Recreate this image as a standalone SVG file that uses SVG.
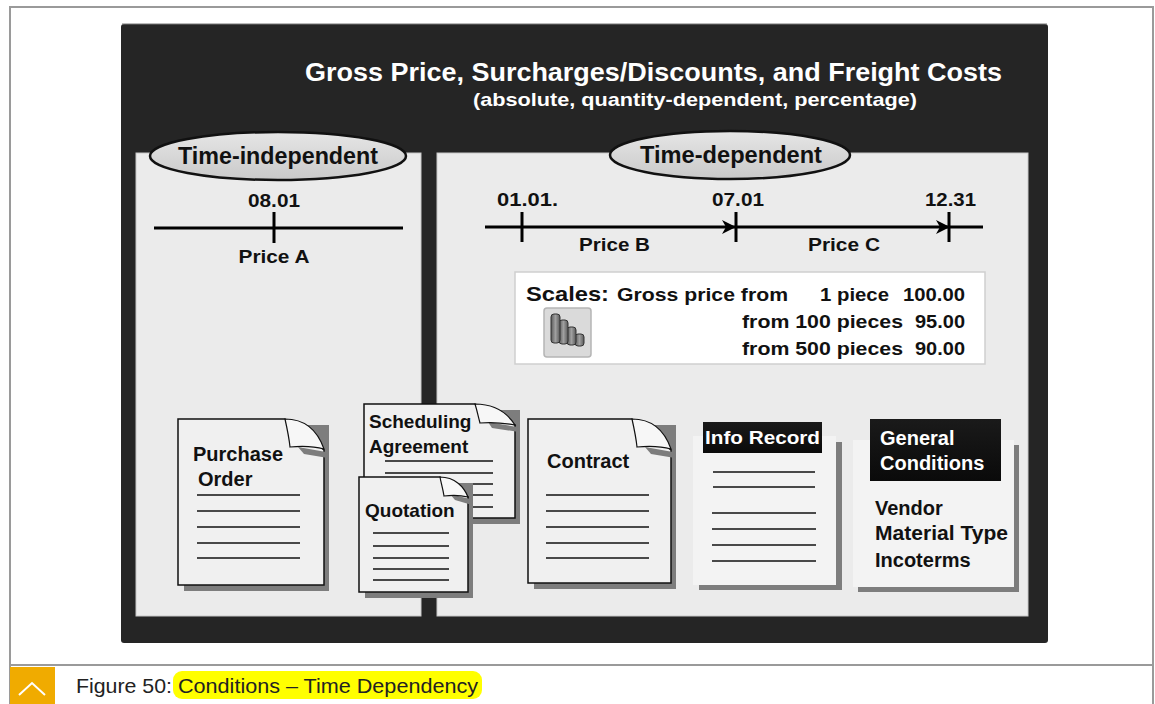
<svg xmlns="http://www.w3.org/2000/svg" width="1155" height="704" viewBox="0 0 1155 704">
  <style>
    .b { font-family: "Liberation Sans", Arial, sans-serif; font-weight: bold; fill: #111; }
    .w { font-family: "Liberation Sans", Arial, sans-serif; font-weight: bold; fill: #fff; }
    .doc { fill: #f0f0f0; stroke: #111; stroke-width: 1.5; }
    .flap { fill: #f7f7f7; stroke: #111; stroke-width: 1.2; }
    .shadow { fill: #7d7d7d; }
    .rule { stroke: #111; stroke-width: 1.5; }
    .axis { stroke: #000; stroke-width: 3; fill: none; }
    .cap { font-family: "Liberation Sans", Arial, sans-serif; font-size: 21px; fill: #222; }
  </style>
  <defs>
    <linearGradient id="ell" x1="0" y1="0" x2="0" y2="1">
      <stop offset="0" stop-color="#e6e6e6"/>
      <stop offset="1" stop-color="#c9c9c9"/>
    </linearGradient>
    <linearGradient id="lbl" x1="0" y1="0" x2="0" y2="1">
      <stop offset="0" stop-color="#1a1a1a"/>
      <stop offset="1" stop-color="#0a0a0a"/>
    </linearGradient>
    <linearGradient id="bar" x1="0" y1="0" x2="1" y2="0">
      <stop offset="0" stop-color="#5a5a5a"/>
      <stop offset="0.5" stop-color="#a0a0a0"/>
      <stop offset="1" stop-color="#5a5a5a"/>
    </linearGradient>
    <marker id="arr" viewBox="0 0 14 14" refX="13" refY="7" markerWidth="14" markerHeight="14" markerUnits="userSpaceOnUse" orient="auto">
      <path d="M0,0 L14,7 L0,14 L4,7 Z" fill="#000"/>
    </marker>
  </defs>

  <!-- page frame -->
  <rect width="1155" height="704" fill="#fff"/>
  <path d="M10,710 V7 H1153 V710" fill="none" stroke="#9a9a9a" stroke-width="2"/>
  <line x1="10" y1="665" x2="1153" y2="665" stroke="#9a9a9a" stroke-width="2"/>

  <!-- dark background panel -->
  <rect x="121" y="24" width="927" height="619" rx="3" fill="#252525"/>
  <line x1="122" y1="24" x2="1047" y2="24" stroke="#777" stroke-width="1"/>

  <g id="title">
    <text class="w" x="305" y="81" font-size="26" textLength="697" lengthAdjust="spacingAndGlyphs">Gross Price,  Surcharges/Discounts, and Freight Costs</text>
    <text class="w" x="473" y="106" font-size="19" textLength="444" lengthAdjust="spacingAndGlyphs">(absolute, quantity-dependent, percentage)</text>
  </g>

  <!-- panels -->
  <g id="panel-left">
    <rect x="136" y="153" width="285" height="463" fill="#ebebeb" stroke="#c8c8c8" stroke-width="1"/>
  </g>
  <g id="panel-right">
    <rect x="437" y="153" width="591" height="463" fill="#ebebeb" stroke="#c8c8c8" stroke-width="1"/>
  </g>

  <g id="time-independent">
    <ellipse cx="278" cy="156" rx="128" ry="24" fill="url(#ell)" stroke="#111" stroke-width="2.5"/>
    <text class="b" x="278" y="164" font-size="24" text-anchor="middle" textLength="200" lengthAdjust="spacingAndGlyphs">Time-independent</text>
  </g>
  <g id="time-dependent">
    <ellipse cx="730" cy="155" rx="120" ry="24" fill="url(#ell)" stroke="#111" stroke-width="2.5"/>
    <text class="b" x="731" y="163" font-size="24" text-anchor="middle" textLength="182" lengthAdjust="spacingAndGlyphs">Time-dependent</text>
  </g>

  <!-- left timeline -->
  <g id="timeline-a">
    <line class="axis" x1="154" y1="228" x2="403" y2="228"/>
    <line class="axis" x1="274" y1="212" x2="274" y2="243"/>
    <text class="b" x="274" y="207" font-size="19" text-anchor="middle" textLength="52" lengthAdjust="spacingAndGlyphs">08.01</text>
    <text class="b" x="274" y="263" font-size="19" text-anchor="middle" textLength="71" lengthAdjust="spacingAndGlyphs">Price A</text>
  </g>

  <!-- right timeline -->
  <g id="connectors">
    <line class="axis" x1="485" y1="227" x2="735" y2="227" marker-end="url(#arr)"/>
    <line class="axis" x1="735" y1="227" x2="949" y2="227" marker-end="url(#arr)"/>
    <line class="axis" x1="949" y1="227" x2="983" y2="227"/>
  </g>
  <g id="timeline-bc">
    <line class="axis" x1="522" y1="212" x2="522" y2="242"/>
    <line class="axis" x1="736" y1="212" x2="736" y2="242"/>
    <line class="axis" x1="949" y1="212" x2="949" y2="242"/>
    <text class="b" x="497" y="206" font-size="19" textLength="61" lengthAdjust="spacingAndGlyphs">01.01.</text>
    <text class="b" x="712" y="206" font-size="19" textLength="52" lengthAdjust="spacingAndGlyphs">07.01</text>
    <text class="b" x="925" y="206" font-size="19" textLength="51" lengthAdjust="spacingAndGlyphs">12.31</text>
    <text class="b" x="579" y="251" font-size="19" textLength="71" lengthAdjust="spacingAndGlyphs">Price B</text>
    <text class="b" x="808" y="251" font-size="19" textLength="72" lengthAdjust="spacingAndGlyphs">Price C</text>
  </g>

  <!-- quantity scales -->
  <g id="scales">
    <rect x="515" y="272" width="470" height="92" fill="#fff" stroke="#cfcfcf" stroke-width="1.5"/>
    <text class="b" x="526" y="301" font-size="21" textLength="83" lengthAdjust="spacingAndGlyphs">Scales:</text>
    <text class="b" x="617" y="301" font-size="18" textLength="171" lengthAdjust="spacingAndGlyphs">Gross price from</text>
    <text class="b" x="820" y="301" font-size="18" textLength="69" lengthAdjust="spacingAndGlyphs">1 piece</text>
    <text class="b" x="965" y="301" font-size="18" text-anchor="end" textLength="62" lengthAdjust="spacingAndGlyphs">100.00</text>
    <text class="b" x="742" y="328" font-size="18" textLength="161" lengthAdjust="spacingAndGlyphs">from 100 pieces</text>
    <text class="b" x="965" y="328" font-size="18" text-anchor="end" textLength="50" lengthAdjust="spacingAndGlyphs">95.00</text>
    <text class="b" x="742" y="355" font-size="18" textLength="161" lengthAdjust="spacingAndGlyphs">from 500 pieces</text>
    <text class="b" x="965" y="355" font-size="18" text-anchor="end" textLength="50" lengthAdjust="spacingAndGlyphs">90.00</text>
    <!-- scale icon button: descending stack of bars -->
    <rect x="544" y="308" width="47" height="49" rx="3" fill="#dadada" stroke="#b5b5b5" stroke-width="1.5"/>
    <g fill="url(#bar)" stroke="#333" stroke-width="1">
      <rect x="575" y="334" width="9" height="12" rx="3"/>
      <rect x="567" y="327" width="9" height="18" rx="3"/>
      <rect x="559" y="320" width="9" height="24" rx="3"/>
      <rect x="551" y="314" width="9" height="29" rx="3"/>
    </g>
  </g>

  <!-- purchase order -->
  <g id="purchase-order">
    <path class="shadow" d="M184,425 H329 V591 H184 Z"/>
    <path class="doc" d="M178,419 H285 L324,450 V585 H178 Z"/>
    <path class="shadow" d="M298,447 L326,452 L328,458 L304,454 Z"/>
    <path class="flap" d="M285,419 C306,419 318,432 324,449 C313,446 301,446 290,447 C289,437 287,428 285,419 Z"/>
    <text class="b" x="193" y="461" font-size="20">Purchase</text>
    <text class="b" x="198" y="486" font-size="20">Order</text>
    <g class="rule">
      <line x1="197" y1="495" x2="300" y2="495"/>
      <line x1="197" y1="511" x2="300" y2="511"/>
      <line x1="197" y1="527" x2="300" y2="527"/>
      <line x1="197" y1="543" x2="300" y2="543"/>
      <line x1="197" y1="558" x2="300" y2="558"/>
    </g>
  </g>

  <!-- scheduling agreement -->
  <g id="scheduling-agreement">
    <path class="shadow" d="M370,410 H520 V524 H370 Z"/>
    <path class="doc" d="M364,404 H475 L515,425 V518 H364 Z"/>
    <path class="shadow" d="M488,422 L517,427 L519,432 L492,428 Z"/>
    <path class="flap" d="M475,404 C496,404 508,414 515,425 C504,423 492,422 480,423 C478,416 477,410 475,404 Z"/>
    <text class="b" x="369" y="428" font-size="19">Scheduling</text>
    <text class="b" x="369" y="453" font-size="19">Agreement</text>
    <g class="rule">
      <line x1="385" y1="461" x2="493" y2="461"/>
      <line x1="385" y1="473" x2="493" y2="473"/>
      <line x1="385" y1="484" x2="493" y2="484"/>
      <line x1="385" y1="495" x2="493" y2="495"/>
      <line x1="385" y1="507" x2="493" y2="507"/>
    </g>
  </g>

  <!-- quotation -->
  <g id="quotation">
    <path class="shadow" d="M365,483 H473 V598 H365 Z"/>
    <path class="doc" d="M359,477 H440 L468,497 V592 H359 Z"/>
    <path class="shadow" d="M450,494 L470,499 L472,505 L455,500 Z"/>
    <path class="flap" d="M440,477 C455,477 464,487 468,497 C460,495 452,495 444,496 C443,489 441,483 440,477 Z"/>
    <text class="b" x="365" y="517" font-size="19">Quotation</text>
    <g class="rule">
      <line x1="373" y1="533" x2="449" y2="533"/>
      <line x1="373" y1="546" x2="449" y2="546"/>
      <line x1="373" y1="558" x2="449" y2="558"/>
      <line x1="373" y1="569" x2="449" y2="569"/>
      <line x1="373" y1="580" x2="449" y2="580"/>
    </g>
  </g>

  <!-- contract -->
  <g id="contract">
    <path class="shadow" d="M534,425 H676 V589 H534 Z"/>
    <path class="doc" d="M528,419 H632 L671,450 V583 H528 Z"/>
    <path class="shadow" d="M645,447 L673,452 L675,458 L651,454 Z"/>
    <path class="flap" d="M632,419 C653,419 665,432 671,449 C660,446 648,446 637,447 C636,437 634,428 632,419 Z"/>
    <text class="b" x="547" y="468" font-size="20">Contract</text>
    <g class="rule">
      <line x1="546" y1="495" x2="649" y2="495"/>
      <line x1="546" y1="511" x2="649" y2="511"/>
      <line x1="546" y1="527" x2="649" y2="527"/>
      <line x1="546" y1="543" x2="649" y2="543"/>
      <line x1="546" y1="558" x2="649" y2="558"/>
    </g>
  </g>

  <!-- info record -->
  <g id="info-record">
    <rect class="shadow" x="699" y="442" width="143" height="148"/>
    <rect x="693" y="436" width="143" height="149" fill="#f3f3f3"/>
    <rect x="703" y="422" width="119" height="31" fill="url(#lbl)"/>
    <text class="w" x="705" y="444" font-size="19" textLength="115" lengthAdjust="spacingAndGlyphs">Info Record</text>
    <g class="rule">
      <line x1="713" y1="472" x2="815" y2="472"/>
      <line x1="713" y1="487" x2="815" y2="487"/>
      <line x1="712" y1="513" x2="816" y2="513"/>
      <line x1="712" y1="529" x2="816" y2="529"/>
      <line x1="712" y1="545" x2="816" y2="545"/>
      <line x1="712" y1="561" x2="816" y2="561"/>
    </g>
  </g>

  <!-- general conditions -->
  <g id="general-conditions">
    <rect class="shadow" x="858" y="445" width="161" height="147"/>
    <rect x="853" y="440" width="161" height="147" fill="#f3f3f3"/>
    <rect x="870" y="419" width="131" height="62" fill="url(#lbl)"/>
    <text class="w" x="880" y="445" font-size="20">General</text>
    <text class="w" x="880" y="470" font-size="20">Conditions</text>
    <text class="b" x="875" y="515" font-size="20">Vendor</text>
    <text class="b" x="875" y="540" font-size="20" textLength="133" lengthAdjust="spacingAndGlyphs">Material Type</text>
    <text class="b" x="875" y="567" font-size="20">Incoterms</text>
  </g>

  <!-- caption -->
  <g id="caption">
    <rect x="10" y="667" width="45" height="40" fill="#f0ab00"/>
    <path d="M19,695 L32,683 L45,695" fill="none" stroke="#fff" stroke-width="2"/>
    <rect x="173" y="671" width="309" height="28" rx="9" fill="#ffff00"/>
    <text class="cap" x="76" y="693" textLength="96" lengthAdjust="spacingAndGlyphs">Figure 50:</text>
    <text class="cap" x="178" y="693" textLength="300" lengthAdjust="spacingAndGlyphs">Conditions – Time Dependency</text>
  </g>
</svg>
